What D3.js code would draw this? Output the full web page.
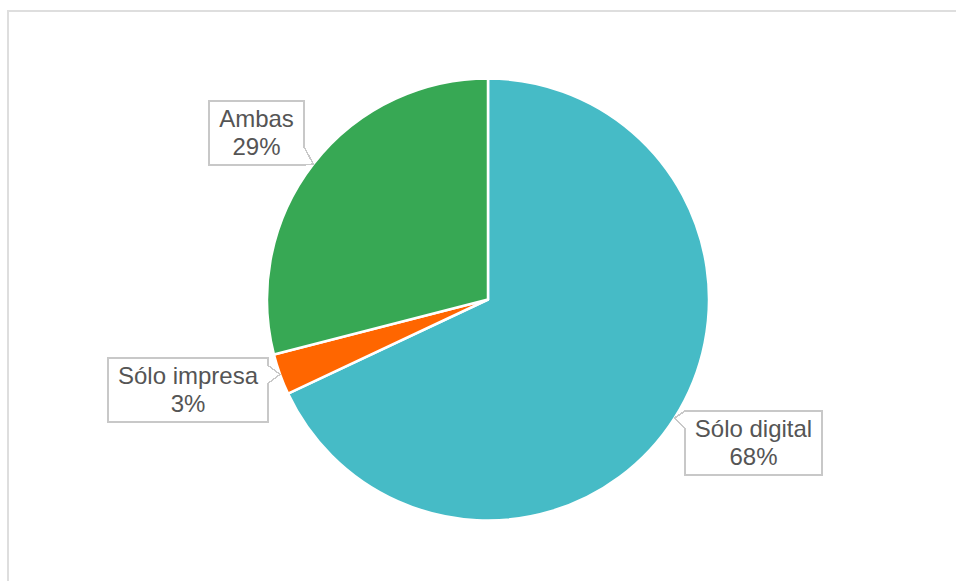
<!DOCTYPE html>
<html>
<head>
<meta charset="utf-8">
<script src="https://cdn.jsdelivr.net/npm/d3@7"></script>
<style>
  body { margin: 0; background: #fff; }
  svg { display: block; }
</style>
</head>
<body>
<div id="chart"></div>
<script>
// chart data
var categories = ["Sólo digital", "Sólo impresa", "Ambas"];
var values = [68, 3, 29];
var colors = ["#46bbc6", "#ff6600", "#37a854"];

// label layout: box offset from the pointer tip, and the side the pointer leaves from
var labelLayout = [
    {side: "left",  dx: 10,  dy: -7},
    {side: "right", dx: -12, dy: -16},
    {side: "right", dx: -9,  dy: -63}
];

var W = 956, H = 581;
var cx = 488, cy = 299.5, radius = 221;

var svg = d3.select("#chart").append("svg")
    .attr("width", W).attr("height", H);

// frame
svg.append("rect")
    .attr("x", 8).attr("y", 11)
    .attr("width", 1200).attr("height", 1200)
    .style("fill", "none").style("stroke", "#dedede").style("stroke-width", 2);

var pie = d3.pie().sort(null).value(function(d){ return d; });
var arcs = pie(values);
var arc = d3.arc().innerRadius(0).outerRadius(radius);

var g = svg.append("g").attr("transform", "translate(" + cx + "," + cy + ")");

g.selectAll("path.slice")
    .data(arcs)
    .enter().append("path")
    .attr("class", "slice")
    .attr("d", arc)
    .style("fill", function(d, i){ return colors[i]; })
    .style("stroke", "#fff")
    .style("stroke-width", 2.5)
    .style("stroke-linejoin", "round");

//---------------------------------------------------------------------
// callout labels
var fontSize = 24, boxH = 64;
var labels = svg.append("g");

arcs.forEach(function(d, i){
    var mid = (d.startAngle + d.endAngle) / 2;
    var tx = cx + radius * Math.sin(mid);
    var ty = cy - radius * Math.cos(mid);
    var lay = labelLayout[i];
    var pct = Math.round(values[i] / d3.sum(values) * 100) + "%";

    var lg = labels.append("g");
    var path = lg.append("path");
    var t1 = lg.append("text").text(categories[i]);
    var t2 = lg.append("text").text(pct);
    lg.selectAll("text")
        .style("font-family", "Arial, 'Liberation Sans', sans-serif")
        .style("font-size", fontSize + "px")
        .style("fill", "#555")
        .attr("text-anchor", "middle");

    var tw = Math.max(t1.node().getComputedTextLength(), t2.node().getComputedTextLength());
    var boxW = Math.round(tw + 20);

    var x0, y0 = Math.round(ty + lay.dy);
    if (lay.side == "left") x0 = Math.round(tx + lay.dx);
    else x0 = Math.round(tx + lay.dx - boxW);
    var x1 = x0 + boxW, y1 = y0 + boxH;

    // pointer base along the side edge, kept inside the box
    var b1 = Math.max(y0, Math.min(y1 - 18, ty - 9));
    var b2 = b1 + 18;
    var p;
    if (lay.side == "right") {
        p = ["M", x0, y0, "H", x1, "V", b1, "L", tx, ty, "L", x1, b2, "V", y1, "H", x0, "Z"];
    } else {
        p = ["M", x0, y0, "H", x1, "V", y1, "H", x0, "V", b2, "L", tx, ty, "L", x0, b1, "Z"];
    }
    path.attr("d", p.join(" "))
        .style("fill", "#fff")
        .style("stroke", "#c8c8c8")
        .style("stroke-width", 1.5)
        .attr("shape-rendering", "crispEdges");

    t1.attr("x", (x0 + x1) / 2).attr("y", y0 + 26);
    t2.attr("x", (x0 + x1) / 2).attr("y", y0 + 54);
});
</script>
</body>
</html>
